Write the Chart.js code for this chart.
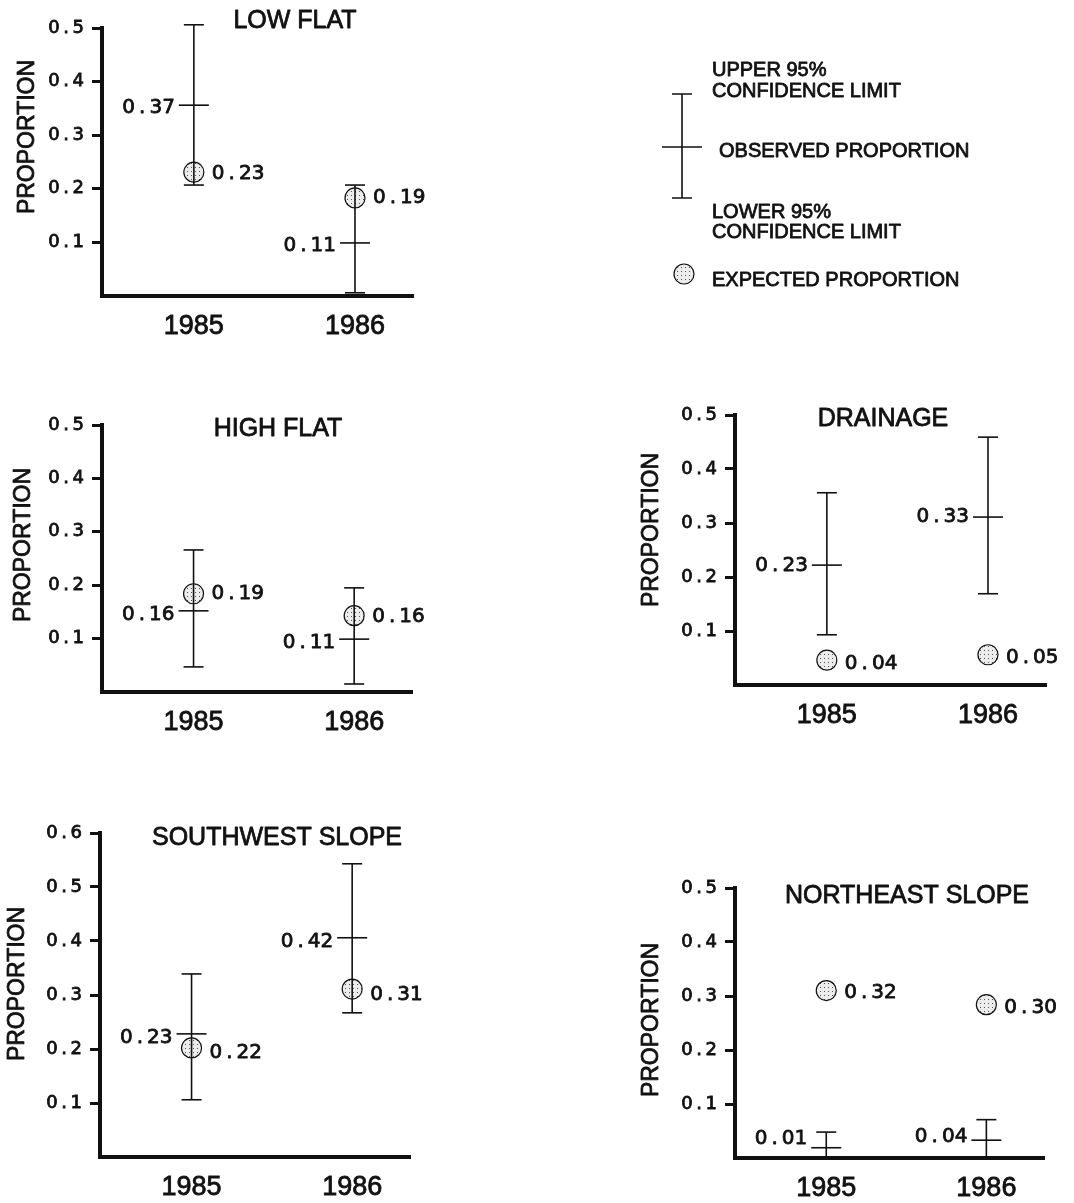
<!DOCTYPE html>
<html>
<head>
<meta charset="utf-8">
<script src="https://cdn.jsdelivr.net/npm/chart.js@4.4.1/dist/chart.umd.min.js"></script>
<style>
  html, body { margin: 0; padding: 0; background: #fff; overflow: hidden; }
  body { width: 1074px; height: 1203px; position: relative; }
  canvas { position: absolute; }
</style>
</head>
<body>
<canvas id="lowflat"></canvas>
<canvas id="highflat"></canvas>
<canvas id="swslope"></canvas>
<canvas id="drainage"></canvas>
<canvas id="neslope"></canvas>
<canvas id="legend" width="420" height="260" style="left:640px;top:50px"></canvas>
<script>
// Years on the x axis
const years = [1985, 1986];

// Tick labels on the y axes
const ticksTo05 = [0.1, 0.2, 0.3, 0.4, 0.5];
const ticksTo06 = [0.1, 0.2, 0.3, 0.4, 0.5, 0.6];

// LOW FLAT
const lowFlatUpper = [0.506, 0.207];
const lowFlatObs = [0.356, 0.099];
const lowFlatLower = [0.207, 0.006];
const lowFlatExp = [0.231, 0.183];
const lowFlatObsText = ["0.37", "0.11"];
const lowFlatExpText = ["0.23", "0.19"];

// HIGH FLAT
const highFlatUpper = [0.266, 0.195];
const highFlatObs = [0.152, 0.099];
const highFlatLower = [0.047, 0.015];
const highFlatExp = [0.184, 0.143];
const highFlatObsText = ["0.16", "0.11"];
const highFlatExpText = ["0.19", "0.16"];

// SOUTHWEST SLOPE
const swSlopeUpper = [0.339, 0.543];
const swSlopeObs = [0.228, 0.406];
const swSlopeLower = [0.106, 0.267];
const swSlopeExp = [0.202, 0.311];
const swSlopeObsText = ["0.23", "0.42"];
const swSlopeExpText = ["0.22", "0.31"];

// DRAINAGE
const drainageUpper = [0.356, 0.459];
const drainageObs = [0.222, 0.311];
const drainageLower = [0.093, 0.169];
const drainageExp = [0.046, 0.056];
const drainageObsText = ["0.23", "0.33"];
const drainageExpText = ["0.04", "0.05"];

// NORTHEAST SLOPE
const neSlopeUpper = [0.048, 0.071];
const neSlopeObs = [0.019, 0.033];
const neSlopeLower = [0, 0];
const neSlopeExp = [0.31, 0.284];
const neSlopeObsText = ["0.01", "0.04"];
const neSlopeExpText = ["0.32", "0.30"];

const ink = "#111";
const family = '"Liberation Sans", Arial, Helvetica, sans-serif';
const numFamily = '"DejaVu Sans", Verdana, sans-serif';
const heavy = 0.8; // extra stroke round glyphs, the print is a bit heavy
Chart.defaults.font.family = family;
Chart.defaults.color = ink;

// Stippled fill for the expected-proportion circles
function makeStipple() {
    const c = document.createElement("canvas");
    c.width = 4; c.height = 4;
    const g = c.getContext("2d");
    g.fillStyle = "#ececec";
    g.fillRect(0, 0, 4, 4);
    g.fillStyle = "#555";
    g.fillRect(1, 1, 1, 1);
    return g.createPattern(c, "repeat");
}
const stipple = makeStipple();

// "0.37" -> "0 . 37" with thin spaces, like the typewriter spacing of the original
const spaced = s => s.replace(".", "\u2009.\u2009");

function heavyText(ctx, text, x, y) {
    ctx.lineWidth = heavy;
    ctx.strokeStyle = ink;
    ctx.lineJoin = "round";
    ctx.strokeText(text, x, y);
    ctx.fillText(text, x, y);
}

// Draws panel title, axis title and value labels
const panelText = {
    id: "panelText",
    afterDatasetsDraw(chart, args, o) {
        const { ctx, chartArea, scales: { x, y } } = chart;
        ctx.save();
        ctx.fillStyle = ink;
        ctx.textBaseline = "middle";

        ctx.font = `25px ${family}`;
        ctx.textAlign = "center";
        heavyText(ctx, o.title, chartArea.left + o.titleAt[0], chartArea.top + o.titleAt[1]);

        ctx.save();
        ctx.translate(chartArea.left + o.yTitleAt[0], chartArea.top + o.yTitleAt[1]);
        ctx.rotate(-Math.PI / 2);
        ctx.font = `23px ${family}`;
        heavyText(ctx, "PROPORTION", 0, 0);
        ctx.restore();

        ctx.font = `20px ${numFamily}`;
        years.forEach((yr, i) => {
            const px = x.getPixelForValue(yr);
            ctx.textAlign = "right";
            heavyText(ctx, spaced(o.obsText[i]), px - 19, y.getPixelForValue(o.obs[i]) + o.obsDy[i]);
            ctx.textAlign = "left";
            heavyText(ctx, spaced(o.expText[i]), px + 18, y.getPixelForValue(o.exp[i]) + o.expDy[i]);
        });
        ctx.restore();
    }
};

function errorBarDatasets(upper, obs, lower, exp) {
    const ds = years.map((yr, i) => ({
        data: [{ x: yr, y: lower[i] }, { x: yr, y: upper[i] }],
        showLine: true, borderColor: ink, borderWidth: 1.6,
        pointRadius: 0, clip: false, order: 1
    }));
    // caps
    ds.push({
        data: years.flatMap((yr, i) => [{ x: yr, y: upper[i] }, { x: yr, y: lower[i] }]),
        pointStyle: "line", pointRadius: 10, borderColor: ink, pointBorderWidth: 1.6,
        clip: false, order: 1
    });
    // observed proportion
    ds.push({
        data: years.map((yr, i) => ({ x: yr, y: obs[i] })),
        pointStyle: "line", pointRadius: 15, borderColor: ink, pointBorderWidth: 1.6,
        clip: false, order: 1
    });
    // expected proportion
    ds.push({
        data: years.map((yr, i) => ({ x: yr, y: exp[i] })),
        pointStyle: "circle", pointRadius: 10, pointBackgroundColor: stipple,
        borderColor: ink, pointBorderWidth: 1.2, clip: false, order: 2
    });
    return ds;
}

const panels = [
    { id: "lowflat", title: "LOW FLAT", box: [102, 28, 413, 296], yTicks: ticksTo05,
      upper: lowFlatUpper, obs: lowFlatObs, lower: lowFlatLower, exp: lowFlatExp,
      obsText: lowFlatObsText, expText: lowFlatExpText,
      titleAt: [193, -7], yTitleAt: [-74, 109], obsDy: [3, 3], expDy: [2, 0] },
    { id: "highflat", title: "HIGH FLAT", box: [102, 425, 412, 692], yTicks: ticksTo05,
      upper: highFlatUpper, obs: highFlatObs, lower: highFlatLower, exp: highFlatExp,
      obsText: highFlatObsText, expText: highFlatExpText,
      titleAt: [176, 4], yTitleAt: [-78, 120], obsDy: [4, 4], expDy: [0, 1] },
    { id: "swslope", title: "SOUTHWEST SLOPE", box: [100, 833, 410, 1157], yTicks: ticksTo06,
      upper: swSlopeUpper, obs: swSlopeObs, lower: swSlopeLower, exp: swSlopeExp,
      obsText: swSlopeObsText, expText: swSlopeExpText,
      titleAt: [177, 5], yTitleAt: [-82, 151], obsDy: [4, 4], expDy: [5, 6] },
    { id: "drainage", title: "DRAINAGE", box: [735, 415, 1046, 685], yTicks: ticksTo05,
      upper: drainageUpper, obs: drainageObs, lower: drainageLower, exp: drainageExp,
      obsText: drainageObsText, expText: drainageExpText,
      titleAt: [148, 4], yTitleAt: [-83, 115], obsDy: [1, 0], expDy: [4, 3] },
    { id: "neslope", title: "NORTHEAST SLOPE", box: [735, 888, 1044, 1158], yTicks: ticksTo05,
      upper: neSlopeUpper, obs: neSlopeObs, lower: neSlopeLower, exp: neSlopeExp,
      obsText: neSlopeObsText, expText: neSlopeExpText,
      titleAt: [172, 8], yTitleAt: [-83, 132], obsDy: [-9, -3], expDy: [2, 3] }
];

const yAxisWidth = 100, xAxisHeight = 50, padTop = 30, padRight = 28;

for (const p of panels) {
    const [x0, y0, x1, y1] = p.box;
    const cv = document.getElementById(p.id);
    cv.width = x1 - x0 + yAxisWidth + padRight;
    cv.height = y1 - y0 + padTop + xAxisHeight;
    cv.style.left = (x0 - yAxisWidth) + "px";
    cv.style.top = (y0 - padTop) + "px";

    new Chart(cv, {
        type: "scatter",
        data: { datasets: errorBarDatasets(p.upper, p.obs, p.lower, p.exp) },
        plugins: [panelText],
        options: {
            responsive: false,
            animation: false,
            events: [],
            layout: { autoPadding: false, padding: { left: 0, top: padTop, right: padRight, bottom: 0 } },
            plugins: {
                legend: { display: false },
                tooltip: { enabled: false },
                panelText: p
            },
            scales: {
                x: {
                    type: "linear", min: 1984.43, max: 1986.36,
                    afterFit: s => { s.height = xAxisHeight; },
                    afterBuildTicks: s => { s.ticks = years.map(v => ({ value: v })); },
                    grid: { display: false, drawTicks: false },
                    border: { display: true, color: ink, width: 4 },
                    ticks: { autoSkip: false, maxRotation: 0, padding: 14, color: ink,
                             textStrokeColor: ink, textStrokeWidth: heavy,
                             font: { size: 27 }, callback: v => String(v) }
                },
                y: {
                    min: 0, max: p.yTicks[p.yTicks.length - 1],
                    afterFit: s => { s.width = yAxisWidth; },
                    afterBuildTicks: s => { s.ticks = p.yTicks.map(v => ({ value: v })); },
                    grid: { drawOnChartArea: false, drawTicks: true, tickLength: 10, lineWidth: 3, color: ink },
                    border: { display: true, color: ink, width: 4 },
                    ticks: { autoSkip: false, padding: 8, color: ink,
                             textStrokeColor: ink, textStrokeWidth: heavy,
                             font: { size: 18, family: numFamily },
                             callback: v => spaced(v.toFixed(1)) }
                }
            }
        }
    });
}

// Key
(function drawLegend() {
    const ctx = document.getElementById("legend").getContext("2d");
    ctx.strokeStyle = ink;
    ctx.fillStyle = ink;
    ctx.lineWidth = 1.6;
    const bx = 42;
    ctx.beginPath();
    ctx.moveTo(bx, 44); ctx.lineTo(bx, 148);
    ctx.moveTo(bx - 10, 44); ctx.lineTo(bx + 10, 44);
    ctx.moveTo(bx - 10, 148); ctx.lineTo(bx + 10, 148);
    ctx.moveTo(bx - 20, 97); ctx.lineTo(bx + 20, 97);
    ctx.stroke();

    ctx.beginPath();
    ctx.arc(44, 224, 10, 0, Math.PI * 2);
    ctx.fillStyle = stipple;
    ctx.fill();
    ctx.lineWidth = 1.2;
    ctx.stroke();

    ctx.fillStyle = ink;
    ctx.font = `20px ${family}`;
    ctx.textBaseline = "middle";
    heavyText(ctx, "UPPER 95%", 72, 20);
    heavyText(ctx, "CONFIDENCE LIMIT", 72, 41);
    heavyText(ctx, "OBSERVED PROPORTION", 79, 101);
    heavyText(ctx, "LOWER 95%", 72, 162);
    heavyText(ctx, "CONFIDENCE LIMIT", 72, 182);
    heavyText(ctx, "EXPECTED PROPORTION", 72, 230);
})();
</script>
</body>
</html>
